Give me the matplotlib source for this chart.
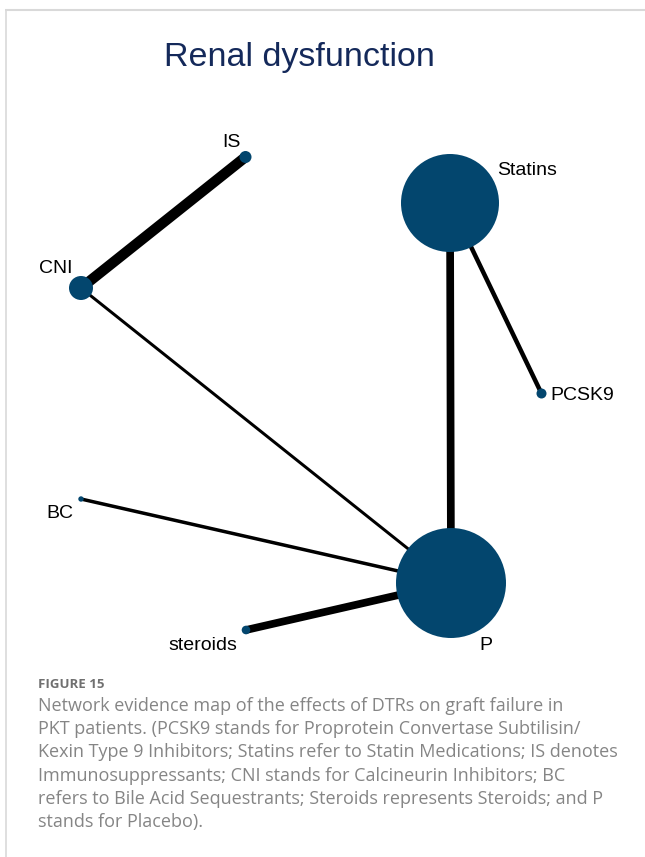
import matplotlib.pyplot as plt
from matplotlib.patches import Circle

# network evidence map: nodes, node size and edge thickness
nodes = ["P", "Statins", "CNI", "IS", "PCSK9", "steroids", "BC"]
node_size = [55, 49, 12, 6, 5, 4.3, 2.7]
edges = [("IS", "CNI"), ("CNI", "P"), ("Statins", "P"),
         ("Statins", "PCSK9"), ("BC", "P"), ("steroids", "P")]
edge_weight = [10.5, 3, 7.7, 4.5, 3.5, 7.7]

title = "Renal dysfunction"
fig_label = "FIGURE 15"
caption_lines = [
    "Network evidence map of the effects of DTRs on graft failure in",
    "PKT patients. (PCSK9 stands for Proprotein Convertase Subtilisin/",
    "Kexin Type 9 Inhibitors; Statins refer to Statin Medications; IS denotes",
    "Immunosuppressants; CNI stands for Calcineurin Inhibitors; BC",
    "refers to Bile Acid Sequestrants; Steroids represents Steroids; and P",
    "stands for Placebo).",
]

# layout in pixel coordinates of the page
pos = {"P": (451, 583), "Statins": (450, 203), "CNI": (81, 288), "IS": (245.5, 157),
       "PCSK9": (541.5, 393.5), "steroids": (246, 630), "BC": (81, 499)}
label_pos = {"P": (486, 645), "Statins": (527, 170), "CNI": (55.5, 268.5), "IS": (231, 142),
             "PCSK9": (550, 395), "steroids": (203, 645), "BC": (60, 513)}

node_color = "#03466e"
W, H = 645, 857

fig = plt.figure(figsize=(W / 100, H / 100), dpi=100)
ax = fig.add_axes([0, 0, 1, 1])
ax.set_xlim(0, W)
ax.set_ylim(H, 0)
ax.axis("off")

# page frame (top and left rules)
ax.plot([5, W], [10, 10], color="#d9d9d9", lw=1.5, solid_capstyle="butt")
ax.plot([6, 6], [10, H], color="#d9d9d9", lw=1.2, solid_capstyle="butt")

ax.text(299, 66, title, ha="center", va="baseline", fontsize=24.5,
        family="Liberation Sans", color="#14295a")

for (a, b), w in zip(edges, edge_weight):
    xa, ya = pos[a]
    xb, yb = pos[b]
    ax.plot([xa, xb], [ya, yb], color="black", lw=w * 0.72,
            solid_capstyle="butt", zorder=1)

for n, r in zip(nodes, node_size):
    ax.add_patch(Circle(pos[n], r, color=node_color, lw=0, zorder=2))
    lx, ly = label_pos[n]
    ax.text(lx, ly, n, ha="left" if n == "PCSK9" else "center", va="center",
            fontsize=14, family="Liberation Sans", color="black", zorder=3)

ax.text(38, 685, fig_label, ha="left", va="center", fontsize=9.5,
        family="Open Sans", weight="bold", color="#707070")
for i, line in enumerate(caption_lines):
    ax.text(38, 706 + 23.2 * i, line, ha="left", va="center", fontsize=13,
            family="Open Sans", color="#858585")

fig.savefig("out.png", dpi=100)
